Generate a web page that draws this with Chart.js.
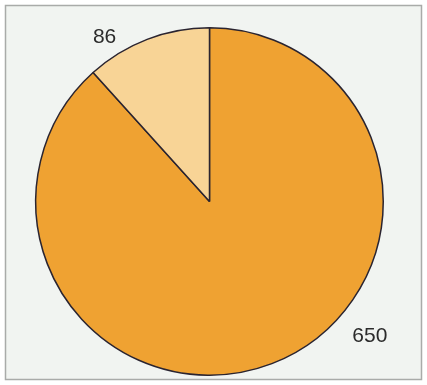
<!DOCTYPE html>
<html><head><meta charset="utf-8">
<script src="https://cdn.jsdelivr.net/npm/chart.js@4.4.1/dist/chart.umd.min.js"></script>
<style>html,body{margin:0;padding:0;background:#fff;}#wrap{width:427px;height:385px;position:relative;}</style>
</head><body><div id="wrap"><canvas id="c" width="427" height="385"></canvas></div>
<script>
const categories = ["A", "B"];
const values = [650, 86];
const sliceColors = ["#efa232", "#f8d496"];
// label placement: angle (fraction of slice from start) and radius factor
const labelAngleFrac = [0.409, 0.227];
const labelRadiusFactor = [1.205, 1.123];

const bgPlugin = {
  id: 'bg',
  beforeDraw(chart) {
    const ctx = chart.ctx;
    ctx.save();
    ctx.fillStyle = '#ffffff';
    ctx.fillRect(0, 0, chart.width, chart.height);
    ctx.fillStyle = '#f1f4f1';
    ctx.fillRect(5, 5, chart.width - 10, chart.height - 10);
    ctx.strokeStyle = '#a9aba9';
    ctx.lineWidth = 1.5;
    ctx.strokeRect(5.5, 5.5, chart.width - 11, chart.height - 11);
    ctx.restore();
  }
};
const labelPlugin = {
  id: 'lbl',
  afterDatasetsDraw(chart) {
    const ctx = chart.ctx;
    const meta = chart.getDatasetMeta(0);
    ctx.save();
    ctx.fillStyle = '#2b2b2b';
    ctx.font = '21px "Liberation Sans", Arial, sans-serif';
    ctx.textAlign = 'center';
    ctx.textBaseline = 'middle';
    meta.data.forEach((arc, i) => {
      const p = arc.getProps(['x','y','startAngle','endAngle','outerRadius'], true);
      const a = p.startAngle + (p.endAngle - p.startAngle) * labelAngleFrac[i];
      const r = p.outerRadius * labelRadiusFactor[i];
      ctx.fillText(String(values[i]), p.x + Math.cos(a) * r, p.y + Math.sin(a) * r);
    });
    ctx.restore();
  }
};

new Chart(document.getElementById('c'), {
  type: 'pie',
  data: {
    labels: categories,
    datasets: [{
      data: values,
      backgroundColor: sliceColors,
      borderColor: '#2a2430',
      borderWidth: 1.5,
      borderAlign: 'center'
    }]
  },
  options: {
    responsive: false,
    animation: false,
    layout: { padding: { left: 35, right: 43, top: 27, bottom: 9 } },
    plugins: { legend: { display: false }, tooltip: { enabled: false } }
  },
  plugins: [bgPlugin, labelPlugin]
});
</script>
</body></html>
